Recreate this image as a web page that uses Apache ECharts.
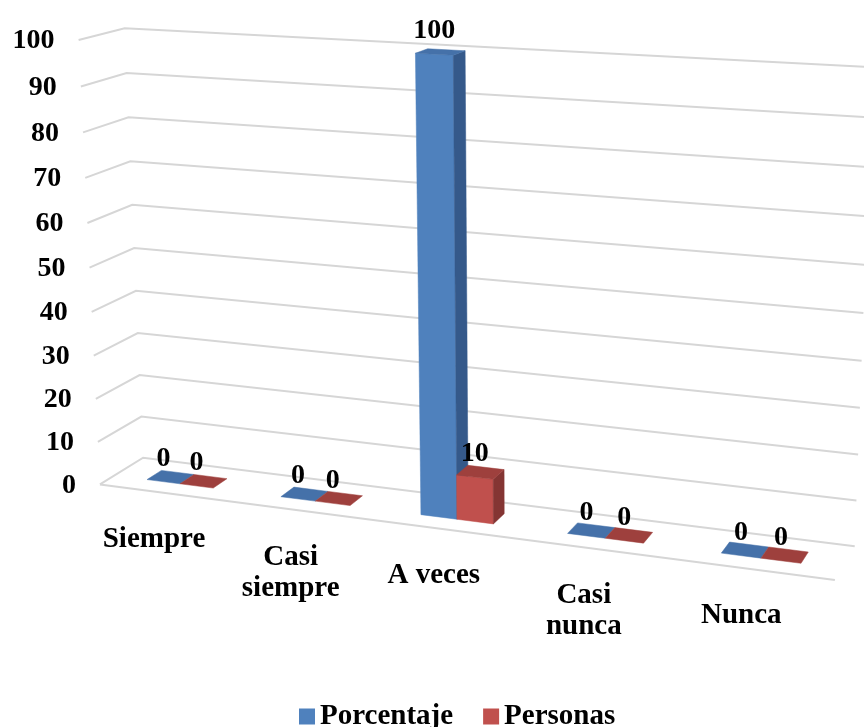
<!DOCTYPE html>
<html>
<head>
<meta charset="utf-8">
<script src="https://cdn.jsdelivr.net/npm/echarts@6/dist/echarts.min.js"></script>
<style>
  html, body { margin: 0; padding: 0; background: #ffffff; }
  #main { width: 864px; height: 727px; }
</style>
</head>
<body>
<div id="main"></div>
<script>
// ---- data ----
const categories = ['Siempre', 'Casi\nsiempre', 'A veces', 'Casi\nnunca', 'Nunca'];
const porcentaje = [0, 0, 100, 0, 0];
const personas = [0, 0, 10, 0, 0];
const valueTicks = [0, 10, 20, 30, 40, 50, 60, 70, 80, 90, 100];
const seriesNames = ['Porcentaje', 'Personas'];

// ---- look ----
const FONT = '"Liberation Serif", "Times New Roman", serif';
const NUM_FONT = 'bold 28px ' + FONT;
const WORD_FONT = 'bold 29px ' + FONT;
const GRID_COLOR = '#d6d6d6';
const PALETTE = [
  { front: '#4f81bd', side: '#35598a', top: '#4571a9' },
  { front: '#c0504d', side: '#843533', top: '#9e403d' }
];
const BAR_FRAC = 0.25;      // each column's share of a category band
const DEPTH = [0.33, 0.67]; // columns' front/back position inside the floor depth

// Screen positions of the plot box corners (u across, v up, w into the page),
// from which a 3x4 perspective camera is solved.
const FRAME_ANCHORS = [
  [0, 1, 0, 78, 40], [0, 0.5, 0, 90, 268], [0, 0, 0, 100, 484],
  [0, 1, 1, 125, 27], [0, 0.5, 1, 135, 250], [0, 0, 1, 142, 457],
  [1, 0, 0, 835, 580], [1, 0, 1, 855, 546], [1, 0.3, 1, 860, 408],
  [1, 1, 1, 872, 67]
];

function solveLinear(M, b) {
  const n = b.length;
  const A = M.map((r, i) => r.concat([b[i]]));
  for (let c = 0; c < n; c++) {
    let piv = c;
    for (let r = c + 1; r < n; r++) if (Math.abs(A[r][c]) > Math.abs(A[piv][c])) piv = r;
    [A[c], A[piv]] = [A[piv], A[c]];
    for (let r = 0; r < n; r++) {
      if (r === c) continue;
      const f = A[r][c] / A[c][c];
      for (let k = c; k <= n; k++) A[r][k] -= f * A[c][k];
    }
  }
  return A.map((r, i) => r[n] / r[i]);
}

function fitCamera(anchors) {
  const S = 1 / 1000;
  const rows = [], rhs = [];
  anchors.forEach(([X, Y, Z, px, py]) => {
    const x = px * S, y = py * S;
    rows.push([X, Y, Z, 1, 0, 0, 0, 0, -x * X, -x * Y, -x * Z]); rhs.push(x);
    rows.push([0, 0, 0, 0, X, Y, Z, 1, -y * X, -y * Y, -y * Z]); rhs.push(y);
  });
  const N = [], c = [];
  for (let i = 0; i < 11; i++) {
    N.push(new Array(11).fill(0)); c.push(0);
    for (let r = 0; r < rows.length; r++) {
      c[i] += rows[r][i] * rhs[r];
      for (let j = 0; j < 11; j++) N[i][j] += rows[r][i] * rows[r][j];
    }
  }
  const p = solveLinear(N, c);
  return function (u, v, w) {
    const d = p[8] * u + p[9] * v + p[10] * w + 1;
    return [
      (p[0] * u + p[1] * v + p[2] * w + p[3]) / d / S,
      (p[4] * u + p[5] * v + p[6] * w + p[7]) / d / S
    ];
  };
}
const project = fitCamera(FRAME_ANCHORS);

// map a data point through the cartesian scales into unit box coordinates
function unitCoords(params, api, cat, val) {
  const r = params.coordSys;
  const p = api.coord([cat, val]);
  return [(p[0] - r.x) / r.width, (r.y + r.height - p[1]) / r.height];
}

function poly(pts, fill) {
  return { type: 'polygon', shape: { points: pts.map(q => project(q[0], q[1], q[2])) },
           style: { fill: fill, stroke: fill, lineWidth: 0.5 } };
}

function renderGrid(params, api) {
  const val = api.value(1);
  const v = unitCoords(params, api, 0, val)[1];
  const children = [];
  const a = project(0, v, 0), b = project(0, v, 1), c = project(1, v, 1);
  children.push({ type: 'polyline', shape: { points: [a, b, c] },
    style: { stroke: GRID_COLOR, lineWidth: 2, fill: null } });
  if (val === 0) {
    const e = project(1, 0, 0);
    children.push({ type: 'line', shape: { x1: a[0], y1: a[1], x2: e[0], y2: e[1] },
      style: { stroke: GRID_COLOR, lineWidth: 2 } });
  }
  children.push({ type: 'text', x: a[0] - 24, y: a[1] + 1,
    style: { text: String(val), font: NUM_FONT, fill: '#000', align: 'right', verticalAlign: 'middle' } });
  return { type: 'group', children: children };
}

function renderCategory(params, api) {
  const idx = params.dataIndex;
  const u = unitCoords(params, api, idx, 0)[0];
  const p = project(u, 0, 0);
  return { type: 'text', x: p[0] - 12, y: p[1] + 31,
    style: { text: categories[idx], font: WORD_FONT, lineHeight: 31, fill: '#000',
             align: 'center', verticalAlign: 'top' } };
}

function barRenderer(side) {
  const col = PALETTE[side];
  return function (params, api) {
    const cat = api.value(0), val = api.value(1);
    const band = api.size([1, 0])[0] / params.coordSys.width;
    const base = unitCoords(params, api, cat, 0);
    const top = unitCoords(params, api, cat, val);
    const u0 = base[0] + (side === 0 ? -BAR_FRAC * band : 0);
    const u1 = u0 + BAR_FRAC * band;
    const v0 = base[1], v1 = top[1];
    const w0 = DEPTH[0], w1 = DEPTH[1];
    const children = [];
    if (v1 > v0) {
      children.push(poly([[u0, v0, w0], [u1, v0, w0], [u1, v1, w0], [u0, v1, w0]], col.front));
      children.push(poly([[u1, v0, w0], [u1, v0, w1], [u1, v1, w1], [u1, v1, w0]], col.side));
    }
    children.push(poly([[u0, v1, w0], [u1, v1, w0], [u1, v1, w1], [u0, v1, w1]], col.top));
    const lp = project((u0 + u1) / 2, v1, w0);
    children.push({ type: 'text', x: lp[0], y: lp[1] - 23, z2: 10,
      style: { text: String(val), font: NUM_FONT, fill: '#000', align: 'center', verticalAlign: 'middle' } });
    return { type: 'group', children: children };
  };
}

const chart = echarts.init(document.getElementById('main'), null, { renderer: 'canvas' });
chart.setOption({
  animation: false,
  backgroundColor: '#ffffff',
  grid: { left: 0, right: 0, top: 0, bottom: 0 },
  xAxis: { type: 'category', data: categories, show: false },
  yAxis: { type: 'value', min: 0, max: 100, interval: 10, show: false },
  legend: {
    data: seriesNames, left: 294, top: 697, icon: 'rect', itemWidth: 16, itemHeight: 16, itemGap: 30,
    textStyle: { fontFamily: FONT, fontWeight: 'bold', fontSize: 29, color: '#000' }
  },
  series: [
    { type: 'custom', name: '_grid', silent: true, renderItem: renderGrid,
      data: valueTicks.map(t => [0, t]), encode: { x: 0, y: 1 } },
    { type: 'custom', name: '_cats', silent: true, renderItem: renderCategory,
      data: categories.map((c, i) => [i, 0]), encode: { x: 0, y: 1 } },
    { type: 'custom', name: seriesNames[0], renderItem: barRenderer(0),
      itemStyle: { color: PALETTE[0].front },
      data: porcentaje.map((v, i) => [i, v]), encode: { x: 0, y: 1 } },
    { type: 'custom', name: seriesNames[1], renderItem: barRenderer(1),
      itemStyle: { color: PALETTE[1].front },
      data: personas.map((v, i) => [i, v]), encode: { x: 0, y: 1 } }
  ]
});
</script>
</body>
</html>
